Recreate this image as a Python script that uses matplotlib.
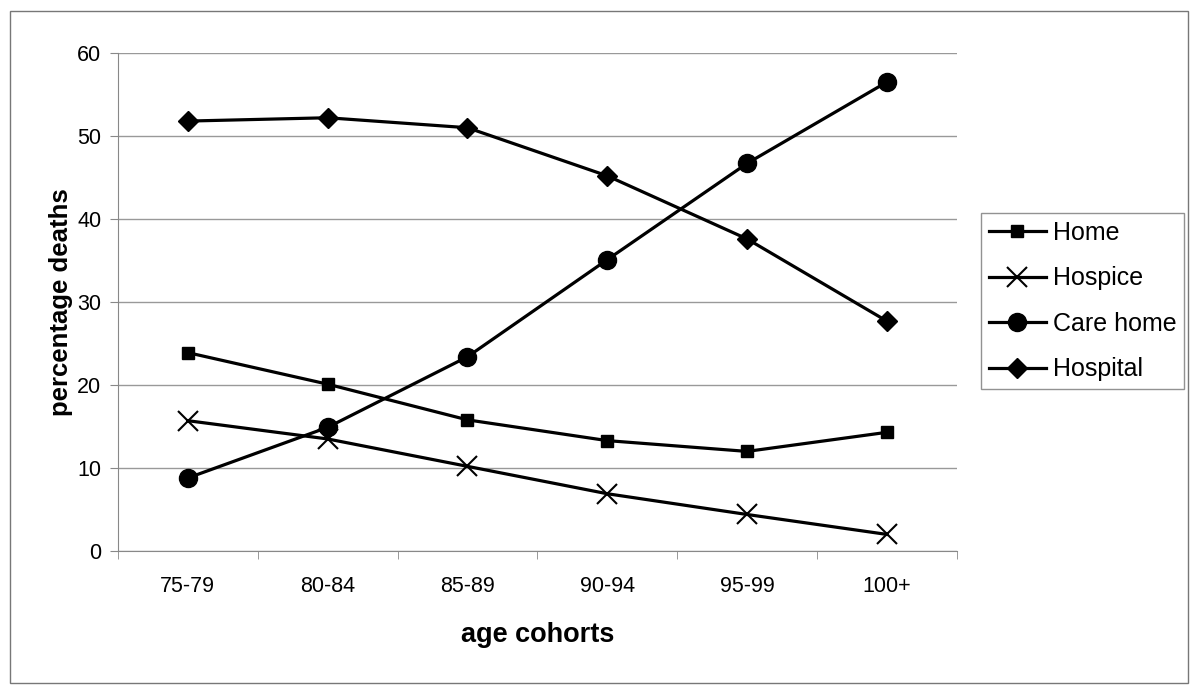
import matplotlib.pyplot as plt
from matplotlib.patches import Rectangle

cohorts = ["75-79", "80-84", "85-89", "90-94", "95-99", "100+"]
home = [23.9, 20.1, 15.8, 13.3, 12.0, 14.3]
hospice = [15.7, 13.5, 10.2, 6.9, 4.4, 2.0]
care_home = [8.8, 14.9, 23.4, 35.1, 46.7, 56.5]
hospital = [51.8, 52.2, 51.0, 45.2, 37.6, 27.7]

plt.rcParams['font.family'] = ['Liberation Sans', 'DejaVu Sans']

fig = plt.figure(figsize=(12, 6.93), dpi=100)
ax = fig.add_axes([0.0983, 0.2049, 0.699, 0.7186])

x = list(range(len(cohorts)))
ax.plot(x, home, color='black', lw=2.3, marker='s', ms=8, label='Home')
ax.plot(x, hospice, color='black', lw=2.3, marker='x', ms=15, mew=1.5, label='Hospice')
ax.plot(x, care_home, color='black', lw=2.3, marker='o', ms=13, label='Care home')
ax.plot(x, hospital, color='black', lw=2.3, marker='D', ms=10, label='Hospital')

ax.set_xlim(-0.5, len(cohorts) - 0.5)
ax.set_ylim(0, 60)
ax.set_yticks(range(0, 61, 10))
ax.set_xticks(x)
ax.set_xticklabels(cohorts)
ax.set_xticks([i - 0.5 for i in range(len(cohorts) + 1)], minor=True)
ax.tick_params(axis='x', which='major', length=0, pad=18, labelsize=15.5)
ax.tick_params(axis='x', which='minor', length=6, color='#888888')
ax.tick_params(axis='y', length=6, color='#888888', labelsize=15.5, pad=6)
ax.grid(axis='y', color='#999999', lw=1)
ax.set_axisbelow(True)
for s in ['top', 'right']:
    ax.spines[s].set_visible(False)
for s in ['left', 'bottom']:
    ax.spines[s].set_color('#888888')

ax.set_xlabel('age cohorts', fontsize=19.5, fontweight='bold', labelpad=18)
ax.set_ylabel('percentage deaths', fontsize=18.5, fontweight='bold', labelpad=3)

# legend sits to the right of the plot area, a bit below centre
leg = ax.legend(loc='center left', bbox_to_anchor=(1.029, 0.502), fontsize=18,
                frameon=True, fancybox=False, handlelength=2.3, handletextpad=0.28,
                borderpad=0.3, labelspacing=0.86, borderaxespad=0)
leg.get_frame().set_edgecolor('#777777')
leg.get_frame().set_linewidth(1)

fig.patches.append(Rectangle((10 / 1200, 10 / 693), 1178 / 1200, 672 / 693,
                             transform=fig.transFigure, fill=False,
                             edgecolor='#777777', lw=1))

fig.savefig('out.png', dpi=100)
